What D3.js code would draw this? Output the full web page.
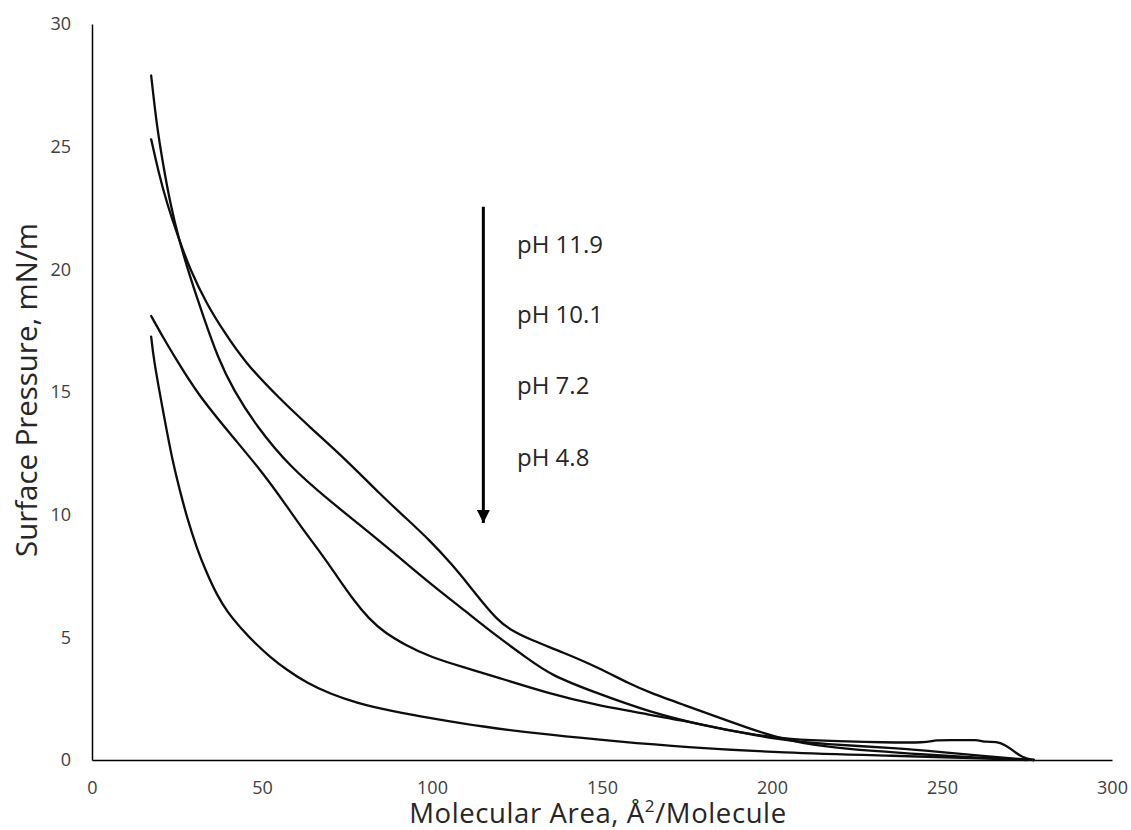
<!DOCTYPE html>
<html>
<head>
<meta charset="utf-8">
<script src="https://cdn.jsdelivr.net/npm/d3@7"></script>
<style>
  html, body { margin: 0; padding: 0; background: #fff; }
  svg { display: block; font-family: "Open Sans", "DejaVu Sans", sans-serif; }
</style>
</head>
<body>
<svg id="chart" width="1131" height="830"></svg>
<script>
// Surface pressure isotherms (mN/m) against molecular area (Å²/molecule)
const xTicks = [0, 50, 100, 150, 200, 250, 300];
const yTicks = [0, 5, 10, 15, 20, 25, 30];

const seriesNames = ["pH 11.9", "pH 10.1", "pH 7.2", "pH 4.8"];

// [area, pressure] pairs for each isotherm
const isoPH119 = [
  [17.4, 25.3], [19.5, 24.0], [22, 22.7], [25.4, 21.3], [28.8, 20.0], [33.7, 18.6],
  [38.6, 17.5], [45, 16.2], [55, 14.75], [65, 13.45], [75, 12.2], [85, 10.8],
  [92, 9.9], [99.4, 8.95], [106, 7.95], [111, 7.1], [115, 6.4], [119, 5.75],
  [123, 5.3], [129, 4.9], [138.6, 4.38], [148.4, 3.8], [158.2, 3.1], [164, 2.75],
  [174, 2.25], [184, 1.75], [193, 1.3], [203, 0.85], [215, 0.55], [230, 0.36],
  [245, 0.22], [260, 0.1], [272, 0.03], [277, 0]
];
const isoPH101 = [
  [17.4, 27.9], [19, 25.9], [21, 24.2], [23, 22.7], [25.4, 21.3], [28.8, 19.7],
  [32.7, 18.1], [37, 16.4], [41.5, 15.1], [48.4, 13.6], [58.2, 11.95], [70, 10.55],
  [80, 9.45], [90, 8.3], [99.4, 7.2], [110, 6.05], [119, 5.05], [128, 4.15],
  [135, 3.45], [148, 2.75], [164, 1.95], [180, 1.4], [193.5, 1.05], [205, 0.84],
  [220, 0.76], [232, 0.72], [246, 0.7], [247.5, 0.82], [255, 0.8], [260, 0.83],
  [263, 0.72], [266, 0.76], [268.5, 0.62], [271, 0.38], [273.5, 0.1], [277, 0]
];
const isoPH72 = [
  [17.4, 18.1], [21, 17.2], [24.9, 16.3], [30.9, 14.95], [40.6, 13.3], [50.3, 11.7],
  [56, 10.6], [62, 9.4], [67, 8.5], [72, 7.5], [77, 6.5], [81.5, 5.75],
  [86, 5.2], [92, 4.7], [99.4, 4.2], [110, 3.75], [119, 3.38], [134.7, 2.7],
  [148, 2.25], [164, 1.85], [174, 1.6], [184, 1.3], [203, 0.8], [215, 0.65],
  [237, 0.48], [250, 0.32], [262, 0.16], [274, 0.03], [277, 0]
];
const isoPH48 = [
  [17.4, 17.26], [18.2, 16.3], [20, 14.9], [22, 13.4], [24, 12.0], [26, 10.9],
  [28, 9.85], [30.9, 8.6], [33.5, 7.7], [36.8, 6.7], [40, 6.0], [43.5, 5.42],
  [48, 4.75], [52.4, 4.2], [57, 3.7], [63.2, 3.14], [70, 2.7], [77.9, 2.32],
  [88, 2.0], [99.4, 1.71], [115, 1.35], [134.7, 1.02], [155, 0.75], [173.8, 0.53],
  [203, 0.29], [237, 0.17], [260, 0.07], [275, 0]
];
const isotherms = [isoPH119, isoPH101, isoPH72, isoPH48];

// annotation: arrow from high to low pH, with label positions along the arrow
const arrowArea = 115.1;
const arrowFrom = 22.55;
const arrowTo = 9.66;
const labelArea = 125;
const labelPressure = [20.65, 17.8, 14.9, 12.0];

const svg = d3.select("#chart");
const margin = { left: 92, right: 19, top: 24, bottom: 70 };
const W = +svg.attr("width"), H = +svg.attr("height");

const x = d3.scaleLinear().domain([0, 300]).range([margin.left, W - margin.right]);
const y = d3.scaleLinear().domain([0, 30]).range([H - margin.bottom, margin.top]);

// axes (no tick marks, just the spines and labels)
const gx = svg.append("g")
  .attr("transform", `translate(0,${y(0)})`)
  .call(d3.axisBottom(x).tickValues(xTicks).tickSize(0).tickPadding(21));
const gy = svg.append("g")
  .attr("transform", `translate(${x(0)},0)`)
  .call(d3.axisLeft(y).tickValues(yTicks).tickSize(0).tickPadding(21));

[gx, gy].forEach(g => {
  g.select(".domain").attr("stroke", "#000").attr("stroke-width", 1.5);
  g.selectAll(".tick text")
    .attr("font-family", "'Open Sans', sans-serif")
    .attr("font-size", 18)
    .attr("fill", "#404040");
});

// isotherm curves
const line = d3.line()
  .x(d => x(d[0]))
  .y(d => y(d[1]))
  .curve(d3.curveBasis);

svg.append("g")
  .selectAll("path")
  .data(isotherms)
  .join("path")
  .attr("d", line)
  .attr("fill", "none")
  .attr("stroke", "#0d0d0d")
  .attr("stroke-width", 2.3)
  .attr("stroke-linejoin", "round")
  .attr("stroke-linecap", "round");

// arrow
svg.append("defs").append("marker")
  .attr("id", "arrowhead")
  .attr("viewBox", "0 0 10 10")
  .attr("refX", 10).attr("refY", 5)
  .attr("markerWidth", 4.4).attr("markerHeight", 4.4)
  .attr("markerUnits", "strokeWidth")
  .attr("orient", "auto")
  .append("path")
  .attr("d", "M0,0 L10,5 L0,10 Z")
  .attr("fill", "#000");

svg.append("line")
  .attr("x1", x(arrowArea)).attr("x2", x(arrowArea))
  .attr("y1", y(arrowFrom)).attr("y2", y(arrowTo))
  .attr("stroke", "#000")
  .attr("stroke-width", 3)
  .attr("marker-end", "url(#arrowhead)");

svg.append("g")
  .selectAll("text")
  .data(seriesNames)
  .join("text")
  .attr("x", x(labelArea))
  .attr("y", (d, i) => y(labelPressure[i]))
  .attr("font-size", 24)
  .attr("fill", "#262626")
  .text(d => d);

// axis titles
const xTitle = svg.append("text")
  .attr("x", 598)
  .attr("y", 823)
  .attr("text-anchor", "middle")
  .attr("font-size", 27.5)
  .attr("letter-spacing", 0.6)
  .attr("fill", "#262626");
xTitle.append("tspan").text("Molecular Area, Å");
xTitle.append("tspan").attr("font-size", "0.62em").attr("dy", "-0.62em").text("2");
xTitle.append("tspan").attr("dy", "0.385em").text("/Molecule");

svg.append("text")
  .attr("transform", "translate(37,390) rotate(-90)")
  .attr("text-anchor", "middle")
  .attr("font-size", 29.4)
  .attr("fill", "#262626")
  .text("Surface Pressure, mN/m");
</script>
</body>
</html>
